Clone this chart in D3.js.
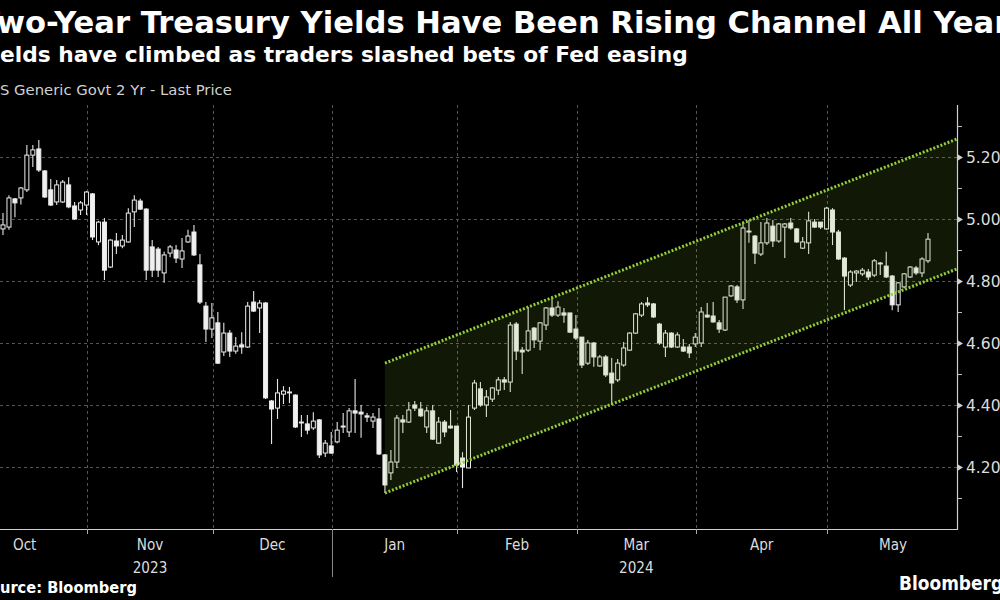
<!DOCTYPE html>
<html><head><meta charset="utf-8">
<script src="https://cdn.jsdelivr.net/npm/d3@7"></script>
<style>
html,body{margin:0;padding:0;background:#000;overflow:hidden}
svg{display:block}
</style></head><body>
<svg id="chart" width="1000" height="600"></svg>
<script>
// ---------------- DATA ----------------
const dates = [
"2023-10-11","2023-10-12","2023-10-13","2023-10-16","2023-10-17","2023-10-18","2023-10-19","2023-10-20","2023-10-23","2023-10-24","2023-10-25","2023-10-26","2023-10-27","2023-10-30","2023-10-31",
"2023-11-01","2023-11-02","2023-11-03","2023-11-06","2023-11-07","2023-11-08","2023-11-09","2023-11-10","2023-11-13","2023-11-14","2023-11-15","2023-11-16","2023-11-17","2023-11-20","2023-11-21","2023-11-22","2023-11-24","2023-11-27","2023-11-28","2023-11-29","2023-11-30",
"2023-12-01","2023-12-04","2023-12-05","2023-12-06","2023-12-07","2023-12-08","2023-12-11","2023-12-12","2023-12-13","2023-12-14","2023-12-15","2023-12-18","2023-12-19","2023-12-20","2023-12-21","2023-12-22","2023-12-26","2023-12-27","2023-12-28","2023-12-29",
"2024-01-02","2024-01-03","2024-01-04","2024-01-05","2024-01-08","2024-01-09","2024-01-10","2024-01-11","2024-01-12","2024-01-16","2024-01-17","2024-01-18","2024-01-19","2024-01-22","2024-01-23","2024-01-24","2024-01-25","2024-01-26","2024-01-29","2024-01-30","2024-01-31",
"2024-02-01","2024-02-02","2024-02-05","2024-02-06","2024-02-07","2024-02-08","2024-02-09","2024-02-12","2024-02-13","2024-02-14","2024-02-15","2024-02-16","2024-02-20","2024-02-21","2024-02-22","2024-02-23","2024-02-26","2024-02-27","2024-02-28","2024-02-29",
"2024-03-01","2024-03-04","2024-03-05","2024-03-06","2024-03-07","2024-03-08","2024-03-11","2024-03-12","2024-03-13","2024-03-14","2024-03-15","2024-03-18","2024-03-19","2024-03-20","2024-03-21","2024-03-22","2024-03-25","2024-03-26","2024-03-27","2024-03-28",
"2024-04-01","2024-04-02","2024-04-03","2024-04-04","2024-04-05","2024-04-08","2024-04-09","2024-04-10","2024-04-11","2024-04-12","2024-04-15","2024-04-16","2024-04-17","2024-04-18","2024-04-19","2024-04-22","2024-04-23","2024-04-24","2024-04-25","2024-04-26","2024-04-29","2024-04-30",
"2024-05-01","2024-05-02","2024-05-03","2024-05-06","2024-05-07","2024-05-08","2024-05-09","2024-05-10","2024-05-13","2024-05-14","2024-05-15","2024-05-16","2024-05-17","2024-05-20","2024-05-21","2024-05-22","2024-05-23"
];
const open = [
4.968,4.974,5.065,5.068,5.094,5.206,5.226,5.155,5.094,5.055,5.055,5.110,5.042,5.029,5.045,
5.081,4.926,4.990,4.845,4.929,4.913,4.926,5.023,5.058,5.032,4.910,4.903,4.826,4.890,4.900,4.871,4.926,4.958,4.852,4.719,4.645,
4.665,4.571,4.632,4.574,4.594,4.587,4.732,4.713,4.729,4.413,4.390,4.435,4.442,4.432,4.342,4.339,4.326,4.352,4.245,4.268,
4.281,4.329,4.313,4.381,4.377,4.365,4.348,4.355,4.239,4.181,4.216,4.352,4.345,4.400,4.387,4.329,4.381,4.277,4.345,4.332,4.332,
4.229,4.197,4.390,4.452,4.400,4.419,4.448,4.481,4.474,4.661,4.577,4.577,4.648,4.606,4.658,4.713,4.690,4.697,4.697,4.645,
4.619,4.535,4.600,4.526,4.555,4.503,4.481,4.529,4.577,4.632,4.690,4.729,4.726,4.661,4.587,4.632,4.587,4.587,4.587,4.597,
4.600,4.690,4.687,4.665,4.642,4.752,4.781,4.739,4.961,4.945,4.887,4.923,4.977,4.929,4.974,4.987,4.968,4.906,4.923,4.990,4.990,4.968,
5.029,4.958,4.874,4.787,4.826,4.823,4.829,4.819,4.858,4.848,4.816,4.723,4.781,4.813,4.842,4.826,4.865
];
const high = [
5.019,5.077,5.068,5.103,5.239,5.239,5.255,5.158,5.129,5.126,5.126,5.135,5.055,5.058,5.090,
5.084,4.994,5.003,4.935,4.955,4.948,5.035,5.077,5.065,5.035,4.932,4.910,4.894,4.916,4.916,4.939,4.965,4.981,4.887,4.732,4.729,
4.700,4.665,4.642,4.619,4.635,4.732,4.768,4.739,4.732,4.416,4.484,4.461,4.458,4.435,4.368,4.368,4.377,4.355,4.287,4.313,
4.345,4.374,4.390,4.484,4.400,4.374,4.374,4.390,4.242,4.255,4.368,4.368,4.410,4.413,4.410,4.394,4.400,4.361,4.352,4.384,4.332,
4.248,4.400,4.481,4.474,4.448,4.458,4.490,4.490,4.668,4.668,4.587,4.716,4.652,4.668,4.716,4.745,4.735,4.713,4.697,4.690,
4.619,4.610,4.603,4.561,4.561,4.552,4.548,4.603,4.635,4.697,4.732,4.748,4.729,4.665,4.642,4.635,4.635,4.613,4.597,4.632,
4.716,4.729,4.732,4.674,4.748,4.787,4.787,4.987,4.997,4.948,4.990,5.003,4.997,4.987,4.987,5.003,4.971,4.942,5.023,5.000,4.990,5.039,
5.035,4.965,4.877,4.835,4.835,4.842,4.839,4.871,4.861,4.894,4.819,4.797,4.826,4.848,4.848,4.877,4.955
];
const low = [
4.948,4.965,5.006,5.047,5.087,5.168,5.152,5.068,5.042,5.045,5.052,5.035,4.997,5.013,5.013,
4.932,4.916,4.803,4.842,4.887,4.906,4.923,4.974,5.029,4.803,4.813,4.813,4.794,4.877,4.858,4.842,4.923,4.881,4.726,4.603,4.616,
4.532,4.558,4.555,4.565,4.565,4.584,4.700,4.632,4.419,4.274,4.355,4.403,4.406,4.326,4.297,4.306,4.319,4.229,4.232,4.242,
4.277,4.310,4.297,4.310,4.294,4.345,4.326,4.239,4.116,4.158,4.197,4.310,4.342,4.381,4.361,4.310,4.287,4.274,4.297,4.323,4.184,
4.132,4.197,4.384,4.394,4.361,4.410,4.432,4.448,4.442,4.545,4.500,4.571,4.584,4.577,4.642,4.684,4.684,4.665,4.632,4.610,
4.519,4.529,4.523,4.523,4.490,4.400,4.474,4.523,4.574,4.629,4.684,4.716,4.681,4.594,4.555,4.584,4.584,4.571,4.552,4.587,
4.587,4.681,4.665,4.632,4.639,4.748,4.729,4.710,4.923,4.855,4.881,4.916,4.910,4.923,4.874,4.965,4.923,4.903,4.887,4.971,4.968,4.965,
4.916,4.868,4.706,4.781,4.797,4.816,4.803,4.813,4.819,4.810,4.706,4.700,4.777,4.810,4.819,4.813,4.858
];
const close = [
4.981,5.068,5.052,5.100,5.206,5.223,5.158,5.071,5.045,5.110,5.119,5.039,5.000,5.052,5.087,
4.942,4.990,4.835,4.932,4.913,4.932,5.019,5.061,5.032,4.835,4.835,4.835,4.884,4.910,4.874,4.897,4.945,4.884,4.732,4.645,4.681,
4.535,4.632,4.574,4.590,4.587,4.719,4.703,4.729,4.423,4.387,4.439,4.445,4.439,4.329,4.345,4.319,4.348,4.239,4.277,4.245,
4.319,4.332,4.381,4.374,4.371,4.361,4.361,4.242,4.142,4.216,4.358,4.345,4.384,4.390,4.365,4.381,4.290,4.345,4.313,4.326,4.206,
4.200,4.361,4.471,4.400,4.426,4.455,4.481,4.474,4.658,4.574,4.571,4.639,4.610,4.665,4.713,4.690,4.716,4.690,4.635,4.616,
4.529,4.600,4.555,4.555,4.497,4.471,4.535,4.584,4.632,4.694,4.726,4.723,4.684,4.600,4.632,4.587,4.626,4.574,4.568,4.619,
4.700,4.684,4.668,4.645,4.748,4.784,4.739,4.971,4.958,4.890,4.923,4.987,4.929,4.984,4.984,4.971,4.926,4.926,4.994,4.974,4.974,5.035,
4.958,4.871,4.816,4.829,4.832,4.835,4.813,4.865,4.855,4.813,4.723,4.794,4.823,4.845,4.826,4.871,4.935
];
const yTicks = [4.2, 4.4, 4.6, 4.8, 5.0, 5.2];
const yMinorTicks = [4.1, 4.3, 4.5, 4.7, 4.9, 5.1, 5.3];
const months = ["2023-10","2023-11","2023-12","2024-01","2024-02","2024-03","2024-04","2024-05"];
const monthLabels = ["Oct","Nov","Dec","Jan","Feb","Mar","Apr","May"];
const yearLabels = ["2023","2024"];
const yearMiddleMonth = ["2023-11","2024-03"];
const holidays = ["2023-10-09","2023-11-23","2023-12-25","2024-01-01","2024-01-15","2024-02-19","2024-03-29","2024-05-27"];
const channelStart = "2024-01-12";
const channelUpper = [4.535, 5.258];
const channelLower = [4.116, 4.839];
const titleText = "Two-Year Treasury Yields Have Been Rising Channel All Year";
const subtitleText = "Yields have climbed as traders slashed bets of Fed easing";
const seriesText = "US Generic Govt 2 Yr - Last Price";
const sourceText = "Source: Bloomberg";
const logoText = "Bloomberg";

// ---------------- LAYOUT ----------------
const W = 1000, H = 600;
const plot = {left: 0, right: 957, top: 105, bottom: 529};
const FONT = "'DejaVu Sans', sans-serif";
const svg = d3.select("#chart");
svg.append("rect").attr("width", W).attr("height", H).attr("fill", "#000");

// trading calendar (for x positions)
const cal = [];
for (let d = new Date(Date.UTC(2023, 8, 28)); d <= new Date(Date.UTC(2024, 4, 31)); d.setUTCDate(d.getUTCDate() + 1)) {
  const wd = d.getUTCDay(); const s = d.toISOString().slice(0, 10);
  if (wd > 0 && wd < 6 && !holidays.includes(s)) cal.push(s);
}
const calIdx = new Map(cal.map((s, i) => [s, i]));
const x = d3.scaleLinear()
  .domain([calIdx.get(dates[0]), calIdx.get(dates[dates.length - 1])])
  .range([3, 928]);
const y = d3.scaleLinear().domain([4.0, 5.37]).range([529, 104.3]);

const data = dates.map((d, i) => ({d, i: calIdx.get(d), o: open[i], h: high[i], l: low[i], c: close[i]}));

// month boundaries
function lastIdxOf(m) { let r = -1; cal.forEach((s, i) => { if (s.slice(0, 7) === m) r = i; }); return r; }
function prevMonth(m) { const [yy, mm] = m.split("-").map(Number); const dd = new Date(Date.UTC(yy, mm - 2, 1)); return dd.toISOString().slice(0, 7); }
const monthInfo = months.map((m, k) => {
  const lp = lastIdxOf(prevMonth(m)), lt = lastIdxOf(m);
  return {m, label: monthLabels[k], bx: x(lp) + 0.8, cx: (x(lp) + x(lt)) / 2 + 0.8};
});

const defs = svg.append("defs");
defs.append("clipPath").attr("id", "plotclip").append("rect")
  .attr("x", plot.left).attr("y", plot.top).attr("width", plot.right - plot.left).attr("height", plot.bottom - plot.top);

// gridlines
const grid = svg.append("g").attr("clip-path", "url(#plotclip)");
grid.selectAll("line.h").data(yTicks).join("line")
  .attr("x1", plot.left).attr("x2", plot.right)
  .attr("y1", d => Math.round(y(d)) + 0.5).attr("y2", d => Math.round(y(d)) + 0.5)
  .attr("stroke", "#555").attr("stroke-width", 1).attr("stroke-dasharray", "3,3");
grid.selectAll("line.v").data(monthInfo.filter(d => d.bx > 0 && d.bx < plot.right)).join("line")
  .attr("x1", d => Math.round(d.bx) + 0.5).attr("x2", d => Math.round(d.bx) + 0.5)
  .attr("y1", plot.top).attr("y2", plot.bottom)
  .attr("stroke", "#555").attr("stroke-width", 1).attr("stroke-dasharray", "3,3");

// candles
const cg = svg.append("g").attr("clip-path", "url(#plotclip)");
const bw = 4;
const candle = cg.selectAll("g.c").data(data).join("g");
candle.append("line")
  .attr("x1", d => x(d.i)).attr("x2", d => x(d.i))
  .attr("y1", d => y(d.h)).attr("y2", d => y(d.l))
  .attr("stroke", "#e6e6e6").attr("stroke-width", 1.1);
candle.append("rect")
  .attr("x", d => x(d.i) - bw / 2)
  .attr("y", d => y(Math.max(d.o, d.c)))
  .attr("width", bw)
  .attr("height", d => Math.max(0.8, Math.abs(y(d.o) - y(d.c))))
  .attr("fill", d => d.c >= d.o ? "#000" : "#f0f0f0")
  .attr("stroke", "#ececec").attr("stroke-width", 1);

// channel
const cx0 = x(calIdx.get(channelStart));
const cx1 = plot.right;
const chan = svg.append("g").attr("clip-path", "url(#plotclip)");
chan.append("path")
  .attr("d", `M${cx0},${y(channelUpper[0])}L${cx1},${y(channelUpper[1])}L${cx1},${y(channelLower[1])}L${cx0},${y(channelLower[0])}Z`)
  .attr("fill", "rgba(130,185,40,0.13)");
[channelUpper, channelLower].forEach(v => {
  chan.append("line")
    .attr("x1", cx0).attr("y1", y(v[0])).attr("x2", cx1).attr("y2", y(v[1]))
    .attr("stroke", "#94cc3c").attr("stroke-width", 3).attr("stroke-dasharray", "2,1.8");
});

// y axis
const yAxis = d3.axisRight(y).tickValues(yTicks).tickSize(0).tickPadding(9).tickFormat(d3.format(".2f"));
const yg = svg.append("g").attr("transform", `translate(${plot.right},0)`).call(yAxis);
yg.select(".domain").remove();
yg.selectAll("text").attr("fill", "#dcdcdc").attr("font-size", 15.5)
  .attr("font-family", FONT).attr("dy", "0.36em");
yg.selectAll(".tick").append("path").attr("d", "M1,-3L6,0L1,3Z").attr("fill", "#cfcfcf");
svg.append("g").selectAll("line").data(yMinorTicks).join("line")
  .attr("x1", plot.right).attr("x2", plot.right + 5)
  .attr("y1", d => Math.round(y(d)) + 0.5).attr("y2", d => Math.round(y(d)) + 0.5)
  .attr("stroke", "#bbb").attr("stroke-width", 1);
svg.append("line").attr("x1", plot.right + 0.5).attr("x2", plot.right + 0.5)
  .attr("y1", plot.top).attr("y2", plot.bottom + 1).attr("stroke", "#cfcfcf").attr("stroke-width", 1.2);

// x axis
svg.append("line").attr("x1", 0).attr("x2", plot.right + 1).attr("y1", plot.bottom + 0.5).attr("y2", plot.bottom + 0.5)
  .attr("stroke", "#cfcfcf").attr("stroke-width", 1.2);
const xg = svg.append("g");
xg.selectAll("line.t").data(monthInfo.filter(d => d.bx > 0 && d.bx < plot.right)).join("line")
  .attr("x1", d => Math.round(d.bx) + 0.5).attr("x2", d => Math.round(d.bx) + 0.5)
  .attr("y1", plot.bottom).attr("y2", d => d.m === "2024-01" ? 577 : plot.bottom + 5)
  .attr("stroke", d => d.m === "2024-01" ? "#888" : "#aaa").attr("stroke-width", 1);
function condensedText(g, tx, ty, str, size, sx) {
  return g.append("text").attr("transform", `translate(${tx},${ty}) scale(${sx},1)`)
    .attr("text-anchor", "middle").attr("fill", "#dcdcdc").attr("font-size", size)
    .attr("font-family", FONT).text(str);
}
monthInfo.forEach(d => condensedText(xg, d.cx, 550, d.label, 16, 0.85));
yearLabels.forEach((d, i) => condensedText(xg, monthInfo.find(m => m.m === yearMiddleMonth[i]).cx, 573, d, 16, 0.85));

// titles (clipped at the left edge, as in the reference)
function placeClipped(full, hiddenPrefix, fitPart, rightEdge, yy, size, weight, fill, condensed) {
  const t = svg.append("text").attr("fill", fill)
    .attr("font-family", FONT).attr("font-weight", weight).attr("font-size", size);
  const meas = s => { t.text(s); return t.node().getComputedTextLength(); };
  const k = rightEdge / (meas(fitPart) - meas(hiddenPrefix));
  if (condensed) {
    const wp = meas(hiddenPrefix) * k;
    t.text(full).attr("transform", `translate(${-wp},${yy}) scale(${k},1)`);
  } else {
    t.attr("font-size", size * k);
    const wp = meas(hiddenPrefix);
    t.text(full).attr("x", -wp).attr("y", yy);
  }
  return t;
}
placeClipped(titleText, "T", "Two-Year Treasury Yields Have Been Rising Channel All Yea", 995, 33, 26, "bold", "#fff", false);
placeClipped(subtitleText, "Yi", subtitleText, 688, 62, 20, "bold", "#fff", false);
placeClipped(seriesText, "U", seriesText, 232, 95, 14, "normal", "#d0d0d0", false);
placeClipped(sourceText, "So", sourceText, 137, 593, 16.5, "bold", "#fff", true);
const logo = svg.append("text").attr("fill", "#fff")
  .attr("font-family", FONT).attr("font-weight", "bold").attr("font-size", 19.5).text("Bloomber");
const lw = logo.node().getComputedTextLength();
logo.text(logoText).attr("transform", `translate(899,590) scale(${92 / lw},1)`);
</script>
</body></html>
